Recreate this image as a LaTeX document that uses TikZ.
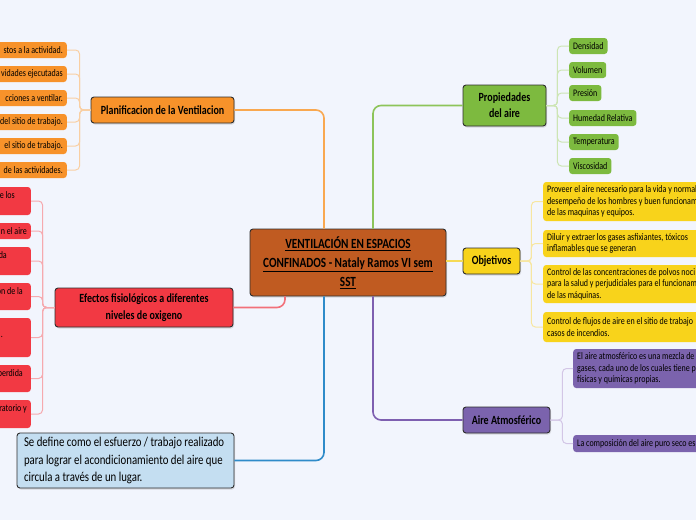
\documentclass[tikz,border=0pt]{standalone}
\usepackage{fontspec}
\setmainfont{Carlito}[FakeStretch=0.8]
\usetikzlibrary{positioning,shadows}
\definecolor{bgc}{HTML}{F2F5FD}
\definecolor{bordc}{HTML}{2E2E2E}
\definecolor{brownc}{HTML}{C05B21}
\definecolor{orc}{HTML}{F7922A}
\definecolor{orline}{HTML}{F9A850}
\definecolor{orlight}{HTML}{F9CFA3}
\definecolor{redc}{HTML}{F23943}
\definecolor{redline}{HTML}{F2707A}
\definecolor{redlight}{HTML}{F6A9AE}
\definecolor{greenc}{HTML}{7DBA3F}
\definecolor{greenline}{HTML}{8DC45A}
\definecolor{greenlight}{HTML}{CDE5B4}
\definecolor{yelc}{HTML}{F8D31B}
\definecolor{yelline}{HTML}{F6DA55}
\definecolor{yellight}{HTML}{F7E6A0}
\definecolor{purc}{HTML}{7B63AD}
\definecolor{purline}{HTML}{7E5FB0}
\definecolor{purlight}{HTML}{D3C6E6}
\definecolor{bluec}{HTML}{C4DEF1}
\definecolor{blueline}{HTML}{2F8BC9}
\tikzstyle{topic}  = [rectangle, rounded corners=3pt, draw=bordc, line width=0.9pt, align=flush center,
                      font=\fontsize{12.5}{14}\selectfont\bfseries,
                      drop shadow={opacity=0.25, shadow xshift=1pt, shadow yshift=-1.5pt}]
\tikzstyle{leaf}   = [rectangle, rounded corners=3pt, inner xsep=4pt, inner ysep=2pt, font=\fontsize{10}{11.5}\selectfont]
\tikzstyle{oleaf}  = [leaf, fill=orc, anchor=east, text width=110pt, align=flush right, minimum height=16pt]
\tikzstyle{rleaf}  = [leaf, fill=redc, anchor=east, text width=60pt, align=flush right]
\tikzstyle{gleaf}  = [leaf, fill=greenc, anchor=west, minimum height=16pt]
\tikzstyle{yleaf}  = [leaf, fill=yelc, anchor=west, text width=175pt, align=flush left]
\tikzstyle{pleaf}  = [leaf, fill=purc, anchor=west, text width=150pt, align=flush left]
\tikzstyle{mlink}  = [line width=1.6pt, rounded corners=8pt]
\tikzstyle{blink}  = [line width=1pt, rounded corners=4pt]

\begin{document}
\begin{tikzpicture}[x=1pt, y=-1pt]
      \useasboundingbox (0,0) rectangle (696,520);
      \fill[bgc] (0,0) rectangle (696,520);

      %Central topic
      \node[topic, fill=brownc, minimum width=196pt, minimum height=67pt, font=\fontsize{14}{19}\selectfont\bfseries] (center) at (348,262.5)
        {\underline{VENTILACIÓN EN ESPACIOS}\\\underline{CONFINADOS - Nataly Ramos VI sem}\\\underline{SST}};

      %Main topics
      \node[topic, fill=orc, minimum width=143pt, minimum height=26pt] (plan) at (162.5,110) {Planificacion de la Ventilacion};
      \node[topic, fill=redc, minimum width=178pt, minimum height=39pt, font=\fontsize{12.5}{17}\selectfont\bfseries] (efectos) at (144,307.5) {Efectos fisiológicos a diferentes\\niveles de oxigeno};
      \node[topic, fill=bluec, minimum width=217pt, minimum height=55pt, inner xsep=7pt, text width=203pt, align=flush left, font=\fontsize{13.5}{17.5}\selectfont] (def) at (125.5,460.5)
        {Se define como el esfuerzo / trabajo realizado\\para lograr el acondicionamiento del aire que\\circula a través de un lugar.};
      \node[topic, fill=greenc, minimum width=83pt, minimum height=41pt, font=\fontsize{12.5}{16}\selectfont\bfseries] (prop) at (504.5,105.5) {Propiedades\\del aire};
      \node[topic, fill=yelc, minimum width=57pt, minimum height=26pt] (obj) at (491.5,261) {Objetivos};
      \node[topic, fill=purc, minimum width=87pt, minimum height=26pt] (atm) at (506.5,420) {Aire Atmosférico};

      %Planificacion leaves
      \node[oleaf] (o1) at (67,50)  {stos a la actividad.};
      \node[oleaf] (o2) at (67,74)  {vidades ejecutadas};
      \node[oleaf] (o3) at (67,98)  {cciones a ventilar.};
      \node[oleaf] (o4) at (67,122) {del sitio de trabajo.};
      \node[oleaf] (o5) at (67,146) {el sitio de trabajo.};
      \node[oleaf] (o6) at (67,170) {de las actividades.};

      %Efectos leaves
      \node[rleaf, minimum height=28pt] (r1) at (31,201)   {e los\kern12pt\\\mbox{}};
      \node[rleaf, minimum height=16pt] (r2) at (31,231)   {n el aire};
      \node[rleaf, minimum height=28pt] (r3) at (31,261)   {da\kern20pt\\\mbox{}};
      \node[rleaf, minimum height=27pt] (r4) at (31,296.5) {on de la\kern4pt\\\mbox{}};
      \node[rleaf, minimum height=39pt] (r5) at (31,337.5) {\mbox{}\\.\kern24pt\\\mbox{}};
      \node[rleaf, minimum height=27pt] (r6) at (31,378.5) {perdida\kern4pt\\\mbox{}};
      \node[rleaf, minimum height=28pt] (r7) at (31,414)   {ratorio y\\\mbox{}};

      %Propiedades leaves
      \node[gleaf] (g1) at (569,46)  {Densidad};
      \node[gleaf] (g2) at (569,70)  {Volumen};
      \node[gleaf] (g3) at (569,93)  {Presión};
      \node[gleaf] (g4) at (569,118) {Humedad Relativa};
      \node[gleaf] (g5) at (569,142) {Temperatura};
      \node[gleaf] (g6) at (569,166) {Viscosidad};

      %Objetivos leaves
      \node[yleaf, minimum height=39pt] (y1) at (543,201.5) {Proveer el aire necesario para la vida y normal\\desempeño de los hombres y buen funcionam\\de las maquinas y equipos.};
      \node[yleaf, minimum height=27pt] (y2) at (543,243.5) {Diluir y extraer los gases asfixiantes, tóxicos\\inflamables que se generan};
      \node[yleaf, minimum height=38pt] (y3) at (543,284)   {Control de las concentraciones de polvos noci\\para la salud y perjudiciales para el funcionam\\de las máquinas.};
      \node[yleaf, minimum height=30pt] (y4) at (543,327)   {Control de flujos de aire en el sitio de trabajo\\casos de incendios.};

      %Aire leaves
      \node[pleaf, minimum height=39pt] (p1) at (573,368.5) {El aire atmosférico es una mezcla de\\gases, cada uno de los cuales tiene p\\físicas y químicas propias.};
      \node[pleaf, minimum height=17pt] (p2) at (573,443.5) {La composición del aire puro seco es};

      %Links
      \draw[mlink, orline]    ([xshift=-24pt]center.north) |- (plan.east);
      \draw[mlink, greenline] ([xshift=25pt]center.north)  |- (prop.west);
      \draw[mlink, yelline]   (center.east |- obj.west) -- (obj.west);
      \draw[mlink, redline]   ([xshift=-63pt]center.south) |- (efectos.east);
      \draw[mlink, blueline]  ([xshift=-24pt]center.south) |- (def.east);
      \draw[mlink, purline]   ([xshift=25pt]center.south)  |- (atm.west);

      \foreach \i in {1,...,6} \draw[blink, orlight] (plan.west) -- ++(-11,0) |- (o\i.east);
      \foreach \i in {1,...,7} \draw[blink, redlight] (efectos.west) -- ++(-12,0) |- (r\i.east);
      \foreach \i in {1,...,6} \draw[blink, greenlight] (prop.east) -- ++(11,0) |- (g\i.west);
      \foreach \i in {1,...,4} \draw[blink, yellight] (obj.east) -- ++(11,0) |- (y\i.west);
      \foreach \i in {1,2} \draw[blink, purlight] (atm.east) -- ++(12,0) |- (p\i.west);
    \end{tikzpicture}
\end{document}
